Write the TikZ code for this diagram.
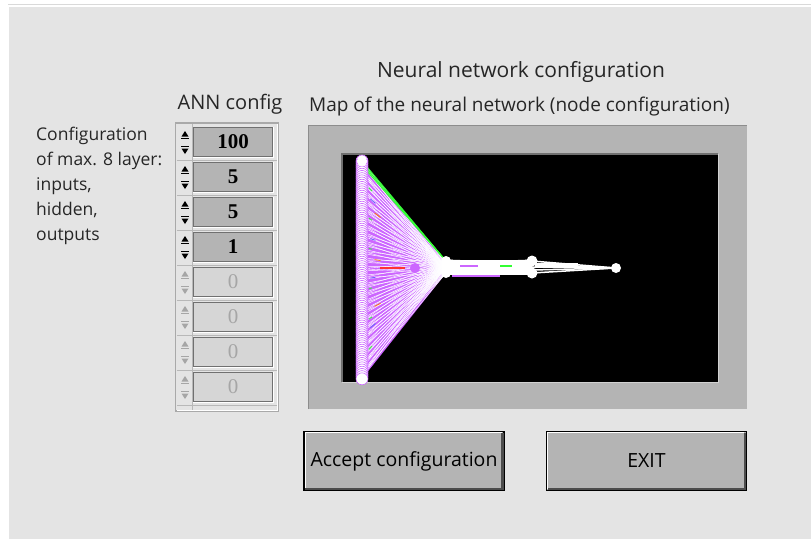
\documentclass[tikz,border=0pt]{standalone}
\usepackage{fontspec}
\usetikzlibrary{calc}
\setmainfont{Open Sans}
\newfontfamily\numfont{Liberation Serif}
\definecolor{panel}{HTML}{E4E4E4}
\definecolor{frame}{HTML}{B4B4B4}
\definecolor{boxoff}{HTML}{D6D6D6}
\definecolor{edge}{HTML}{707070}
\definecolor{violet}{HTML}{CC66FF}
\definecolor{netgreen}{HTML}{33FF33}
\tikzset{
  guitext/.style={font=\fontsize{19}{23}\selectfont, inner sep=0pt, text=black!85},
  valbox/.style={draw=edge, line width=1.2pt, minimum width=80, minimum height=29, inner sep=0pt},
  button/.style={draw=black, line width=1.6pt, fill=frame, minimum width=200, minimum height=59,
    inner sep=0pt, font=\fontsize{19.5}{23}\selectfont},
  neuron/.style={fill=white}
}
\begin{document}
\begin{tikzpicture}[x=1pt,y=-1pt]
  \useasboundingbox (0,0) rectangle (811,539);
  \fill[white] (0,0) rectangle (811,539);
  \fill[panel] (9,7) rectangle (811,539);
  \draw[black!15, line width=1.5pt] (8,4.5) -- (811,4.5);

  % titles
  \node[guitext, font=\fontsize{21}{25}\selectfont] (title) at (521,72) {Neural network configuration};
  \node[guitext, anchor=west] (maplabel) at (309,107) {Map of the neural network (node configuration)};
  \node[guitext, font=\fontsize{20}{24}\selectfont] (anncfg) at (230,104) {ANN config};
  \node[guitext, anchor=north west, align=left, font=\fontsize{17.5}{25}\selectfont] (info) at (36,127)
    {Configuration\\of max. 8 layer:\\inputs,\\hidden,\\outputs};

  % spinner column
  \draw[edge!60, fill=panel, line width=1.5pt] (175.5,123) rectangle (278,411);
  \draw[white, line width=1pt] (277,124) -- (277,410) -- (176.5,410);
  \foreach \v [count=\i from 0] in {100,5,5,1,0,0,0,0}{
    \pgfmathsetmacro{\ytop}{127+35*\i}
    \ifnum\i<4 \def\fillc{frame}\def\txtc{black}\def\arrc{black}\def\fnt{\bfseries}
    \else \def\fillc{boxoff}\def\txtc{black!35}\def\arrc{black!35}\def\fnt{}\fi
    \node[valbox, fill=\fillc, text=\txtc] (val\i) at (233,\ytop+15) {\numfont\fontsize{21}{21}\selectfont\fnt\v};
    \draw[white] (val\i.north east) -- (val\i.south east) -- (val\i.south west);
    \fill[\arrc] (185,\ytop+4) -- ++(3.5,5.5) -- ++(-7,0) -- cycle;
    \draw[\arrc] (181,\ytop+11) -- (189,\ytop+11);
    \draw[\arrc] (181,\ytop+19) -- (189,\ytop+19);
    \fill[\arrc] (185,\ytop+27) -- ++(3.5,-5.5) -- ++(-7,0) -- cycle;
    \draw[edge!50] (176.5,\ytop+33) -- (277,\ytop+33);
  }
  \draw[edge!50] (192,124) -- (192,410);

  % map frame
  \fill[frame] (308,125) rectangle (747,409);
  \draw[edge!80, line width=1.2pt] (308.5,409) -- (308.5,125.5) -- (747,125.5);
  \fill[black] (342,154) rectangle (718,382);
  \draw[edge, line width=1.5pt] (342,382) -- (342,154) -- (718,154);
  \draw[frame!60, line width=1pt] (342,382) -- (718,382) -- (718,154);

  % network: 100 - 5 - 5 - 1
  \foreach \k in {1,...,100} \coordinate (in\k) at (362,161+2.2*\k-2.2);
  \foreach \j in {1,...,5} {
    \coordinate (ha\j) at (446,261+3*\j-3);
    \coordinate (hb\j) at (532,261+3*\j-3);
  }
  \coordinate (out) at (616,268);
  \fill[violet] (in1) -- (ha1) -- (ha5) -- (in100) -- cycle;
  \foreach \k in {1,3,...,99} \draw[white, line width=0.5pt] (in\k) -- (ha3);
  \foreach \k in {2,6,...,98} \draw[white, line width=0.4pt] (in\k) -- (ha1) (in\k) -- (ha5);
  \foreach \k in {1,2,3} \draw[netgreen, line width=1pt] (in\k) -- (ha1);
  \foreach \k in {10,25,40,60,75,90} \draw[netgreen, line width=0.8pt] ($(in\k)!0.08!(ha3)$) -- ($(in\k)!0.12!(ha3)$);
  \foreach \k in {15,35,55,80} \draw[blue!60, line width=0.8pt] ($(in\k)!0.1!(ha2)$) -- ($(in\k)!0.16!(ha2)$);
  \foreach \k in {20,45,70} \draw[orange, line width=0.8pt] ($(in\k)!0.15!(ha4)$) -- ($(in\k)!0.22!(ha4)$);
  \draw[red!80, line width=1.2pt] (380,268) -- (405,268);
  \fill[violet] (415,268) circle (5);
  \foreach \i in {1,...,5} \foreach \j in {1,...,5} \draw[white, line width=3pt] (ha\i) -- (hb\j);
  \draw[violet, line width=1.5pt] (452,276) -- (500,276);
  \draw[violet, line width=1.5pt] (460,266) -- (478,266);
  \draw[netgreen, line width=1.5pt] (500,266) -- (512,266);
  \foreach \j in {1,...,5} \draw[white, line width=1.5pt] (hb\j) -- (out);
  \draw[white, line width=4pt] (535,265) -- (578,265);
  \foreach \k in {1,...,100} \draw[neuron, draw=violet, line width=0.6pt] (in\k) circle (6);
  \fill[neuron] (in1) circle (5);
  \fill[neuron] (in100) circle (4);
  \foreach \j in {1,...,5} \fill[neuron] (ha\j) circle (5);
  \fill[neuron] (hb1) circle (5.5);
  \fill[neuron] (hb5) circle (5.5);
  \fill[neuron] (out) circle (5);

  % buttons
  \node[button] (accept) at (404,461) {Accept configuration};
  \node[button] (exit) at (646.5,461) {EXIT};
  \foreach \b in {accept,exit} {
    \draw[white, line width=1pt] ([shift={(2,-2)}]\b.south west) -- ([shift={(2,2)}]\b.north west) -- ([shift={(-3,2)}]\b.north east);
    \draw[black!70, line width=2.5pt] ([shift={(-2.5,2)}]\b.north east) -- ([shift={(-2.5,-2.5)}]\b.south east) -- ([shift={(2,-2.5)}]\b.south west);
  }
\end{tikzpicture}
\end{document}
